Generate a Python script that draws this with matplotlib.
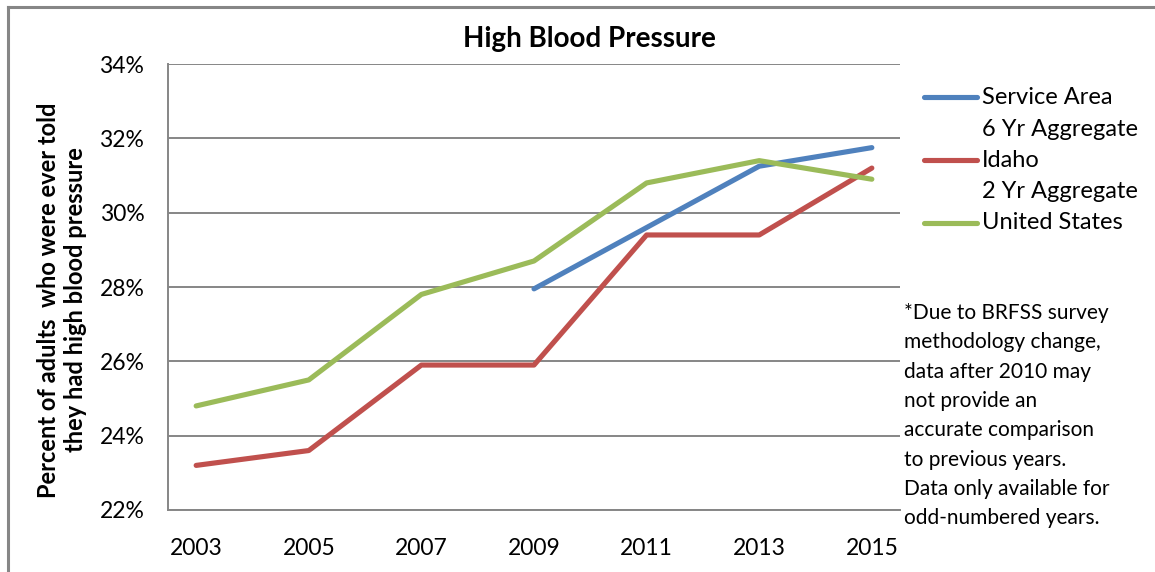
import matplotlib
matplotlib.use("Agg")
import matplotlib.pyplot as plt
from matplotlib.lines import Line2D
from matplotlib.ticker import FuncFormatter

plt.rcParams['font.family'] = ['Lato', 'DejaVu Sans']

years = [2003, 2005, 2007, 2009, 2011, 2013, 2015]
service_years = [2009, 2011, 2013, 2015]
service_area = [27.95, 29.6, 31.25, 31.75]
idaho = [23.2, 23.6, 25.9, 25.9, 29.4, 29.4, 31.2]
united_states = [24.8, 25.5, 27.8, 28.7, 30.8, 31.4, 30.9]
legend_labels = ["Service Area", "6 Yr Aggregate", "Idaho", "2 Yr Aggregate", "United States"]
yticks = [22, 24, 26, 28, 30, 32, 34]
note_lines = ["*Due to BRFSS survey", "methodology change,", "data after 2010 may",
              "not provide an", "accurate comparison", "to previous years.",
              "Data only available for", "odd-numbered years."]

blue, red, green = "#4F81BD", "#C0504D", "#9BBB59"
grid_c = "#868686"

W, H = 1155, 572
fig = plt.figure(figsize=(W / 100, H / 100), dpi=100)
ax = fig.add_axes([168 / W, 1 - 510 / H, (900 - 168) / W, (510 - 64) / H])

lw = 3.7
ax.plot(service_years, service_area, color=blue, lw=lw, solid_capstyle='round', zorder=3)
ax.plot(years, idaho, color=red, lw=lw, solid_capstyle='round', zorder=3)
ax.plot(years, united_states, color=green, lw=lw, solid_capstyle='round', zorder=4)

ax.set_xlim(2002.5, 2015.5)
ax.set_ylim(22, 34)
ax.set_xticks(years)
ax.set_xticklabels([str(y) for y in years])
ax.set_yticks(yticks)
ax.yaxis.set_major_formatter(FuncFormatter(lambda v, p: f"{v:.0f}%"))
ax.tick_params(axis='both', length=0, labelsize=16.5, colors='black')
ax.tick_params(axis='y', pad=17)
ax.tick_params(axis='x', pad=20)
ax.grid(axis='y', color=grid_c, lw=1.4)
ax.set_axisbelow(True)
for s in ['top', 'right']:
    ax.spines[s].set_visible(False)
for s in ['left', 'bottom']:
    ax.spines[s].set_color(grid_c)
    ax.spines[s].set_linewidth(1.4)

fig.text(589 / W, 1 - 39 / H, "High Blood Pressure", ha='center', va='center',
         fontsize=20, fontweight='bold')
fig.text(62 / W, 1 - 300 / H, "Percent of adults  who were ever told\nthey had high blood pressure",
         ha='center', va='center', rotation=90, fontsize=17, fontweight='bold',
         linespacing=1.2)

# legend
leg_rows = [(97, blue, legend_labels[0]), (129, None, legend_labels[1]),
            (160, red, legend_labels[2]), (192, None, legend_labels[3]),
            (223, green, legend_labels[4])]
for y, c, lab in leg_rows:
    if c is not None:
        fig.add_artist(Line2D([924 / W, 977 / W], [1 - y / H, 1 - y / H], color=c,
                              lw=lw, solid_capstyle='round'))
    fig.text(982 / W, 1 - y / H, lab, ha='left', va='center', fontsize=17)

for i, t in enumerate(note_lines):
    y = 313 + i * 29.3
    fig.text(904 / W, 1 - y / H, t, ha='left', va='center', fontsize=15)

# outer chart border
fig.add_artist(Line2D([8 / W, 8 / W], [0, 1 - 7 / H], color=grid_c, lw=2.2))
fig.add_artist(Line2D([8 / W, 1], [1 - 7 / H, 1 - 7 / H], color=grid_c, lw=2.2))

fig.savefig("out.png", dpi=100)
